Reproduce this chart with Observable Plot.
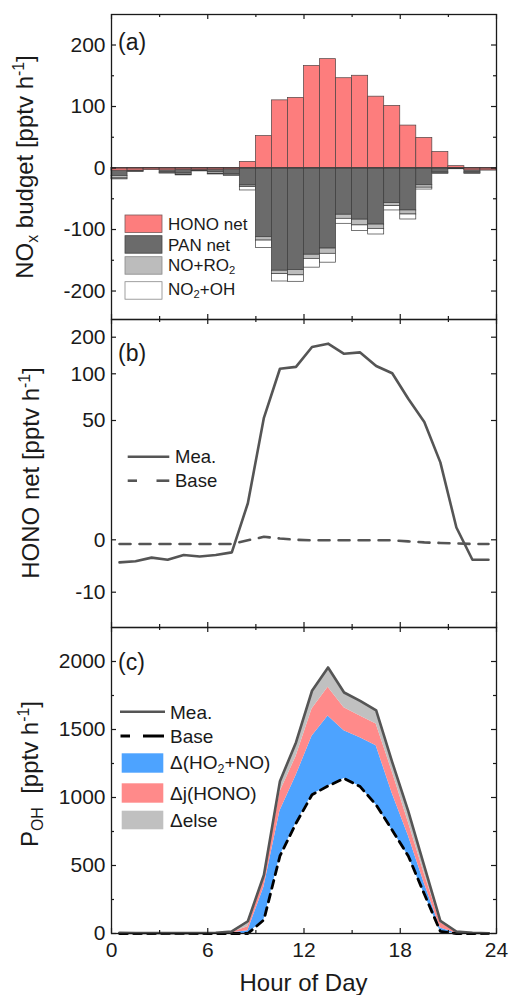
<!DOCTYPE html>
<html><head><meta charset="utf-8">
<script src="https://cdn.jsdelivr.net/npm/d3@7"></script>
<script src="https://cdn.jsdelivr.net/npm/@observablehq/plot@0.6"></script>
<style>
html,body{margin:0;padding:0;background:#fff;}
#fig{position:relative;width:509px;height:995px;overflow:hidden;font-family:"Liberation Sans",Arial,Helvetica,sans-serif;color:#1a1a1a;}
.lab{position:absolute;white-space:nowrap;line-height:1;}
.lab sub,.lab sup{font-size:0.66em;line-height:0;}
.lab sub{vertical-align:-0.32em;}
.lab sup{vertical-align:0.6em;}
</style></head><body><div id="fig"></div>
<script>
// ---------------- data ----------------
const hours = [0,1,2,3,4,5,6,7,8,9,10,11,12,13,14,15,16,17,18,19,20,21,22,23];
// (a) NOx budget [pptv/h]
const honoNet = [-4.3,-4.1,-3.4,-3.8,-2.9,-3.2,-2.9,-2.4,10,52,110,114,166,177,146,150,116,101,69,49,26,3,-3.8,-3.8];
const panNet  = [-13,-5,-1,-7,-9,-4,-7,-10,-28.5,-112.5,-167,-166,-141,-131,-76,-84,-92,-57,-69,-28,-7,-1,-7,-3];
const noRO2   = [-4,-1,-0.5,-1.5,-2,-1,-2.5,-2,-2.5,-5.5,-5.5,-8.5,-6.7,-8.5,-6.6,-9.3,-7,-5,-6.6,-4,-1.5,-0.5,-1.5,-0.5];
const no2OH   = [-1.5,-0.5,-0.5,-0.5,-1,-0.5,-1,-1,-5.5,-12,-12,-10.5,-14.3,-14.4,-8.1,-9.2,-9.1,-7,-8.1,-3,-1,-0.5,-1,-0.5];
// (b) HONO net: measured (= honoNet) and base
const honoBase = [-0.8,-0.8,-0.8,-0.8,-0.8,-0.8,-0.8,-0.8,-0.1,0.7,0.3,0,-0.1,-0.1,-0.1,-0.1,-0.1,-0.1,-0.3,-0.5,-0.6,-0.7,-0.8,-0.8];
// (c) P_OH [pptv/h]
const pohMea  = [5,4,4,3,3,4,5,15,90,430,1120,1405,1785,1956,1772,1711,1640,1260,900,495,93,15,5,2];
const pohBase = [0,0,0,0,0,0,0,0,0,100,570,810,1020,1085,1140,1080,945,760,570,290,15,0,0,0];
const dHO2NO  = [0,0,0,0,0,0,0,5,20,240,330,350,430,515,350,360,435,270,150,80,25,2,0,0];
const djHONO  = [2,2,2,2,2,2,2,5,30,60,140,140,200,210,170,160,160,160,100,70,40,8,3,1];
const dElse   = [3,2,2,1,1,2,3,5,40,30,80,105,135,146,112,111,100,70,80,55,13,5,2,1];
// ticks
const xMajor = [0,6,12,18,24], xMinor = [3,9,15,21];
const yMajA = [-200,-100,0,100,200], yMinA = [-150,-50,50,150];
const yMajB = [-10,0,50,100,200];
const yMajC = [0,500,1000,1500,2000], yMinC = [250,750,1250,1750];
const seriesA = ["PAN net","NO+RO2","NO2+OH"];
const seriesC = ["Base","Δ(HO2+NO)","Δj(HONO)","Δelse"];

// ---------------- tables ----------------
const negRows = [];
hours.forEach((h,i)=>{
  negRows.push({h, h2:h+1, s:seriesA[0], v:panNet[i]},
               {h, h2:h+1, s:seriesA[1], v:noRO2[i]},
               {h, h2:h+1, s:seriesA[2], v:no2OH[i]});
});
const honoRows = hours.map((h,i)=>({h, h2:h+1, v:honoNet[i]}));
const bMea = hours.map((h,i)=>({t:h+0.5, v:honoNet[i]}));
const bBase = hours.map((h,i)=>({t:h+0.5, v:honoBase[i]}));
const cRows = [];
hours.forEach((h,i)=>{
  cRows.push({t:h+0.5, s:seriesC[0], v:pohBase[i]},
             {t:h+0.5, s:seriesC[1], v:dHO2NO[i]},
             {t:h+0.5, s:seriesC[2], v:djHONO[i]},
             {t:h+0.5, s:seriesC[3], v:dElse[i]});
});
const cMea = hours.map((h,i)=>({t:h+0.5, v:pohMea[i]}));
const cBase = hours.map((h,i)=>({t:h+0.5, v:pohBase[i]}));

// ---------------- layout ----------------
const W = 509, H = 995, XL = 111, XR = 496;
const FONT = '"Liberation Sans", Arial, Helvetica, sans-serif';
const INK = "#1a1a1a";
const fig = document.getElementById("fig");
const svgStyle = {background:"transparent", overflow:"visible", fontFamily:FONT, fontSize:"21px", color:INK, position:"absolute", left:"0px", top:"0px"};

function edgeTicks(yMaj, yMin, fh){
  const fw = XR - XL, s = {stroke:INK, strokeWidth:1.2};
  return [
    Plot.tickY(yMaj, {y:d=>d, insetRight:fw-5, ...s}),
    Plot.tickY(yMaj, {y:d=>d, insetLeft:fw-5, ...s}),
    Plot.tickY(yMin, {y:d=>d, insetRight:fw-3, ...s}),
    Plot.tickY(yMin, {y:d=>d, insetLeft:fw-3, ...s}),
    Plot.tickX(xMajor, {x:d=>d, insetBottom:fh-5, ...s}),
    Plot.tickX(xMajor, {x:d=>d, insetTop:fh-5, ...s}),
    Plot.tickX(xMinor, {x:d=>d, insetBottom:fh-3, ...s}),
    Plot.tickX(xMinor, {x:d=>d, insetTop:fh-3, ...s})
  ];
}
const yLabels = (ticks) => Plot.axisY(ticks, {anchor:"left", tickSize:0, tickPadding:6, tickFormat:d=>String(d), label:null, fontSize:21});

// panel (a)
const aTop = 14, aBot = 319;
const pa = Plot.plot({
  width:W, height:H, marginLeft:XL, marginRight:W-XR, marginTop:aTop, marginBottom:H-aBot,
  style:svgStyle,
  x:{domain:[0,24], range:[XL,XR], axis:null},
  y:{domain:[-246.3,249.6], range:[aBot,aTop]},
  color:{domain:seriesA, range:["#6b6b6b","#bcbcbc","#ffffff"]},
  marks:[
    Plot.rectY(negRows, {x1:"h", x2:"h2", y:"v", fill:"s", stroke:"#3c3c3c", strokeWidth:0.7}),
    Plot.rectY(honoRows, {x1:"h", x2:"h2", y:"v", fill:"#fd7d7d", stroke:"#4d4343", strokeWidth:0.7}),
    Plot.ruleY([0], {stroke:"#333", strokeWidth:1}),
    ...edgeTicks(yMajA, yMinA, aBot-aTop),
    yLabels(yMajA),
    Plot.frame({stroke:INK, strokeWidth:1.3})
  ]
});
fig.appendChild(pa);

// panel (b): segmented axis as in the figure (linear below 0, compressed above)
const bTop = 319, bBot = 627;
function bT(v){
  let p;
  if (v <= 0) p = 539.3 - v*5.24;
  else if (v <= 50) p = 539.3 - 119.3*Math.log(1+v/25)/Math.log(3);
  else if (v <= 100) p = 420 - 46.7*Math.log2(v/50);
  else p = 373.3 - 36.6*Math.log2(v/100);
  return -p;
}
const pb = Plot.plot({
  width:W, height:H, marginLeft:XL, marginRight:W-XR, marginTop:bTop, marginBottom:H-bBot,
  style:svgStyle,
  x:{domain:[0,24], range:[XL,XR], axis:null},
  y:{transform:bT, domain:[-bBot,-bTop], range:[bBot,bTop]},
  marks:[
    Plot.line(bBase, {x:"t", y:"v", stroke:"#555", strokeWidth:2.6, strokeDasharray:"11,9"}),
    Plot.line(bMea, {x:"t", y:"v", stroke:"#555", strokeWidth:2.6}),
    ...edgeTicks(yMajB, [], bBot-bTop),
    yLabels(yMajB),
    Plot.frame({stroke:INK, strokeWidth:1.3})
  ]
});
fig.appendChild(pb);

// panel (c)
const cTop = 627, cBot = 933;
const pc = Plot.plot({
  width:W, height:H, marginLeft:XL, marginRight:W-XR, marginTop:cTop, marginBottom:H-cBot,
  style:svgStyle,
  x:{domain:[0,24], range:[XL,XR]},
  y:{domain:[0,2250], range:[cBot,cTop]},
  color:{domain:seriesC, range:["rgba(255,255,255,0)","#4da3ff","#ff8a8a","#c0c0c0"]},
  marks:[
    Plot.areaY(cRows, {x:"t", y:"v", z:"s", fill:"s"}),
    Plot.line(cBase, {x:"t", y:"v", stroke:"#000", strokeWidth:2.8, strokeDasharray:"8,6"}),
    Plot.line(cMea, {x:"t", y:"v", stroke:"#555", strokeWidth:2.6}),
    ...edgeTicks(yMajC, yMinC, cBot-cTop),
    yLabels(yMajC),
    Plot.axisX(xMajor, {anchor:"bottom", tickSize:0, tickPadding:9, label:null, fontSize:21}),
    Plot.frame({stroke:INK, strokeWidth:1.3})
  ]
});
fig.appendChild(pc);

// ---------------- legends & labels ----------------
const NS = "http://www.w3.org/2000/svg";
const leg = document.createElementNS(NS, "svg");
leg.setAttribute("width", W); leg.setAttribute("height", H);
leg.style.cssText = "position:absolute;left:0;top:0;overflow:visible";
leg.innerHTML = `
  <rect x="125" y="215" width="37" height="17.5" fill="#fd7d7d" stroke="#7a5a5a" stroke-width="0.8"/>
  <rect x="125" y="235.7" width="37" height="17.5" fill="#6b6b6b" stroke="#444" stroke-width="0.8"/>
  <rect x="125" y="256.7" width="37" height="17.5" fill="#bcbcbc" stroke="#888" stroke-width="0.8"/>
  <rect x="125" y="281.7" width="37" height="17.5" fill="#fff" stroke="#888" stroke-width="0.8"/>
  <line x1="127.7" x2="169.3" y1="456.7" y2="456.7" stroke="#555" stroke-width="2.6"/>
  <line x1="127.7" x2="137" y1="480.7" y2="480.7" stroke="#555" stroke-width="2.6"/>
  <line x1="156.5" x2="169.3" y1="480.7" y2="480.7" stroke="#555" stroke-width="2.6"/>
  <line x1="120" x2="165" y1="711.7" y2="711.7" stroke="#555" stroke-width="2.6"/>
  <line x1="120.5" x2="130" y1="736" y2="736" stroke="#000" stroke-width="3"/>
  <line x1="143" x2="164" y1="736" y2="736" stroke="#000" stroke-width="3"/>
  <rect x="121.7" y="753.3" width="41.6" height="19.4" fill="#4da3ff"/>
  <rect x="121.7" y="783.3" width="41.6" height="19.4" fill="#ff8a8a"/>
  <rect x="121.7" y="810.7" width="41.6" height="18.6" fill="#c0c0c0"/>`;
fig.appendChild(leg);

function label(html, x, y, size, opts = {}){
  const d = document.createElement("div");
  d.className = "lab";
  d.innerHTML = html;
  d.style.left = x + "px";
  d.style.top = y + "px";
  d.style.fontSize = size + "px";
  d.style.transform = opts.rotate ? "translate(-50%,-50%) rotate(-90deg)" : (opts.center ? "translate(-50%,-50%)" : "translateY(-50%)");
  fig.appendChild(d);
}
label("(a)", 118, 42, 23);
label("(b)", 118, 353.3, 23);
label("(c)", 118, 661.7, 23);
label("NO<sub>x</sub> budget [pptv h<sup>-1</sup>]", 25, 166.5, 24, {rotate:true});
label("HONO net [pptv h<sup>-1</sup>]", 31, 473, 24, {rotate:true});
label("P<sub>OH</sub>&nbsp; [pptv h<sup>-1</sup>]", 30, 774, 24, {rotate:true});
label("Hour of Day", 303.5, 983, 24, {center:true});
label("HONO net", 168, 223.7, 17);
label("PAN net", 168, 245, 17);
label("NO+RO<sub>2</sub>", 168, 264.5, 17);
label("NO<sub>2</sub>+OH", 168, 289, 17);
label("Mea.", 175, 456.7, 18.5);
label("Base", 175, 480.7, 18.5);
label("Mea.", 170, 711.7, 19);
label("Base", 170, 736, 19);
label("Δ(HO<sub>2</sub>+NO)", 170, 761.5, 19);
label("Δj(HONO)", 170, 793, 19);
label("Δelse", 170, 820, 19);
</script></body></html>
